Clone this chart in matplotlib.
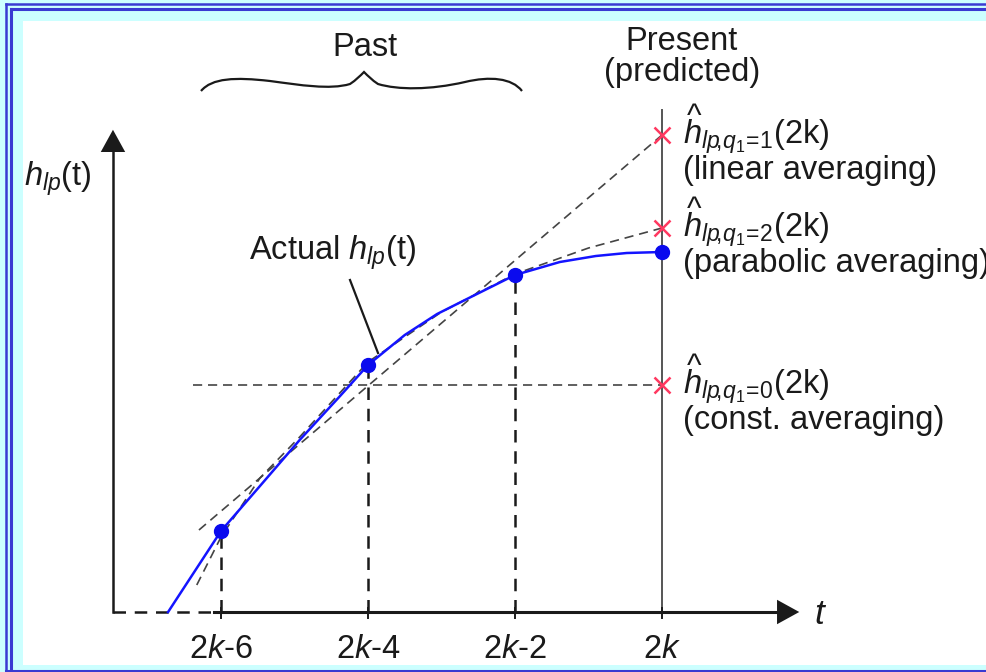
import numpy as np
import matplotlib as mpl
import matplotlib.pyplot as plt
from matplotlib.patches import Rectangle, FancyArrowPatch, PathPatch
from matplotlib.path import Path

# Data (t in steps relative to 2k, h in arbitrary units)
t_past = [-6, -4, -2, 0]
h_past = [0.81, 2.47, 3.37, 3.60]
tick_labels = [r'2$k$-6', r'2$k$-4', r'2$k$-2', r'2$k$']

# actual h_lp(t) curve
curve_t = [-6.72, -6.0, -5.47, -4.93, -4.38, -4.0, -3.5, -3.06, -2.6, -2.0, -1.39, -0.9, -0.48, 0.0]
curve_h = [0.0, 0.81, 1.26, 1.72, 2.16, 2.47, 2.77, 2.98, 3.15, 3.37, 3.50, 3.56, 3.59, 3.60]

# predictions at 2k
lin_t = [-6.3, 0.0]
lin_h = [0.82, 4.77]
para_t = [-6.33, -6.0, -5.47, -4.93, -4.0, -3.0, -2.0, -1.0, 0.0]
para_h = [0.27, 0.75, 1.34, 1.75, 2.50, 3.00, 3.38, 3.64, 3.84]
const_t = [-6.38, 0.0]
const_h = [2.27, 2.27]
pred_h = [4.77, 3.84, 2.27]
pred_subs = ['1', '2', '0']
pred_notes = ['(linear averaging)', '(parabolic averaging)', '(const. averaging)']

# Figure set up
mpl.rcParams['font.family'] = 'Liberation Sans'
mpl.rcParams['mathtext.fontset'] = 'custom'
mpl.rcParams['mathtext.rm'] = 'Liberation Sans'
mpl.rcParams['mathtext.it'] = 'Liberation Sans:italic'
mpl.rcParams['mathtext.bf'] = 'Liberation Sans:bold'
fs = 23.5
ink = '#1a1a1a'
gray = '#444444'

fig = plt.figure(figsize=(9.86, 6.72), dpi=100)

# frame (pixel coordinates)
deco = fig.add_axes([0, 0, 1, 1], zorder=0)
deco.set_xlim(0, 986)
deco.set_ylim(672, 0)
deco.axis('off')
deco.add_patch(Rectangle((0, 0), 986, 672, color='#ccffff', lw=0))
deco.add_patch(Rectangle((23, 21), 986, 644, color='white', lw=0))
blue = '#3a3ad2'
deco.plot([6, 6], [4, 672], color=blue, lw=1.8)
deco.plot([6, 986], [4, 4], color=blue, lw=1.8)
deco.plot([11, 11], [9, 672], color=blue, lw=2.2)
deco.plot([11, 986], [9, 9], color=blue, lw=2.2)
deco.plot([6, 986], [670.5, 670.5], color=blue, lw=2.2)

# brace over the past samples
verts = [(201, 91), (212, 78), (235, 77), (270, 81),
         (300, 85), (330, 90), (350, 84),
         (356, 80), (360, 76), (364, 72),
         (368, 76), (372, 80), (378, 84),
         (398, 90), (430, 90), (465, 82),
         (490, 76), (512, 78), (522, 91)]
codes = [Path.MOVETO] + [Path.CURVE4] * 18
deco.add_patch(PathPatch(Path(verts, codes), fill=False, ec=ink, lw=1.6))
deco.text(365, 47, 'Past', fontsize=fs, ha='center', va='center', color=ink)
deco.text(682, 41, 'Present', fontsize=fs, ha='center', va='center', color=ink)
deco.text(682, 73, '(predicted)', fontsize=fs, ha='center', va='center', color=ink)

# main diagram
ax = fig.add_axes([0, 0, 1, 1], zorder=1)
ax.patch.set_alpha(0)
ax.set_xlim(-9.007, 4.408)
ax.set_ylim(-0.6, 6.12)
ax.axis('off')

y0 = -7.47
ax.plot([y0, -6.1], [0, 0], color=ink, lw=1.8, ls=(0, (5, 3.5)))
ax.plot([-6.1, 1.75], [0, 0], color=ink, lw=2.2)
ax.plot([y0, y0], [0, 4.7], color=ink, lw=1.8)
ax.add_patch(FancyArrowPatch((1.5, 0), (1.905, 0), arrowstyle='-|>,head_length=1.0,head_width=0.55',
                             mutation_scale=16, color=ink, lw=0))
ax.add_patch(FancyArrowPatch((y0, 4.4), (y0, 4.85), arrowstyle='-|>,head_length=1.0,head_width=0.55',
                             mutation_scale=16, color=ink, lw=0))
ax.text(2.16, -0.02, r'$t$', fontsize=fs + 2, ha='center', va='center', color=ink)
ax.text(-8.68, 4.26, r'$h_{lp}$(t)', fontsize=fs, ha='left', va='baseline', color=ink)

# present line
ax.plot([0, 0], [0, 5.02], color='#555555', lw=1.4)

# ticks, drop lines, tick labels
for t, h, lab in zip(t_past, h_past, tick_labels):
    ax.plot([t, t], [-0.06, 0.04], color=ink, lw=1.4)
    if t < 0:
        ax.plot([t, t], [0, h], color=ink, lw=1.8, ls=(0, (5, 3.5)))
    ax.text(t, -0.37, lab, fontsize=fs, ha='center', va='center', color=ink)

# prediction lines
dash = (0, (5.5, 3.5))
ax.plot(lin_t, lin_h, color=gray, lw=1.2, ls=dash)
ax.plot(para_t, para_h, color=gray, lw=1.2, ls=dash)
ax.plot(const_t, const_h, color=gray, lw=1.2, ls=dash)

# actual curve
ax.plot(curve_t, curve_h, color='#1414ff', lw=1.8, solid_joinstyle='round')
ax.plot(t_past, h_past, 'o', color='#0a0aee', ms=10, zorder=5)

# predicted values
ax.plot([0, 0, 0], pred_h, 'x', color='#ff3860', ms=11, mew=1.8, zorder=6)
for h, sub, note in zip(pred_h, pred_subs, pred_notes):
    lab = r'$h_{lp\!,\!q_1\!=\!' + sub + r'}$(2k)'
    ax.text(0.28, h - 0.09, lab, fontsize=fs, ha='left', va='baseline', color=ink)
    ax.text(0.43, h + 0.18, '^', fontsize=fs * 0.95, ha='center', va='center', color=ink)
    ax.text(0.28, h - 0.355, note, fontsize=fs, ha='left', va='center', color=ink)

# annotation
ax.text(-5.62, 3.52, r'Actual $h_{lp}$(t)', fontsize=fs, ha='left', va='baseline', color=ink)
ax.plot([-4.245, -3.864], [3.32, 2.59], color=ink, lw=1.6)

fig.savefig('out.png', dpi=100)
